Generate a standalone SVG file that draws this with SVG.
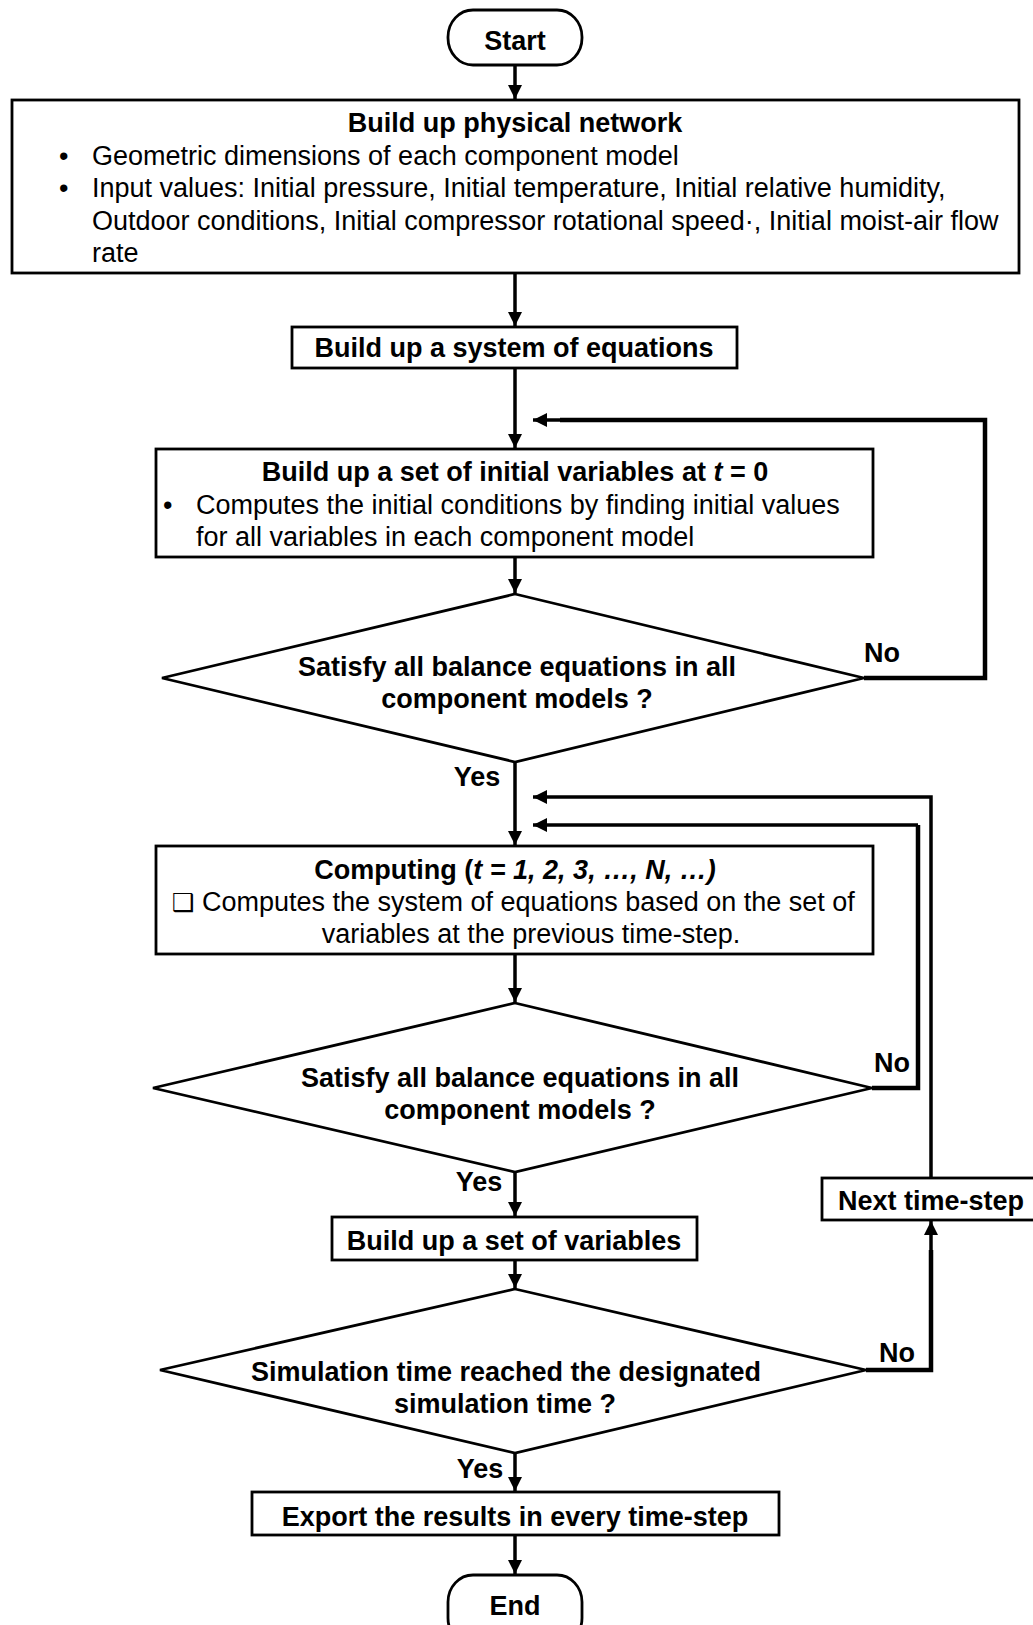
<svg xmlns="http://www.w3.org/2000/svg" width="1033" height="1625" viewBox="0 0 1033 1625">
<style>
text{font-family:"Liberation Sans",Arial,sans-serif;font-size:27px;fill:#000}
.b{font-weight:bold}
.c{text-anchor:middle}
.box{fill:#fff;stroke:#000;stroke-width:2.8}
.ln{fill:none;stroke:#000;stroke-width:3.5}
.no{fill:none;stroke:#000;stroke-width:4.5}
</style>
<defs>
<marker id="ah" markerUnits="userSpaceOnUse" markerWidth="15" markerHeight="15" refX="14" refY="7" orient="auto">
<path d="M0,0 L14,7 L0,14 z" fill="#000"/>
</marker>
</defs>
<rect width="1033" height="1625" fill="#fff"/>
<g id="connectors">
<line class="ln" x1="515" y1="65" x2="515" y2="99" marker-end="url(#ah)"/>
<line class="ln" x1="515" y1="273" x2="515" y2="326" marker-end="url(#ah)"/>
<line class="ln" x1="515" y1="368" x2="515" y2="448" marker-end="url(#ah)"/>
<line class="ln" x1="515" y1="557" x2="515" y2="593" marker-end="url(#ah)"/>
<polyline class="no" points="864,678 985,678 985,420 560,420"/>
<line class="ln" x1="560" y1="420" x2="533" y2="420" marker-end="url(#ah)"/>
<line class="ln" x1="515" y1="762" x2="515" y2="845" marker-end="url(#ah)"/>
<line class="ln" x1="515" y1="954" x2="515" y2="1002" marker-end="url(#ah)"/>
<polyline class="no" points="872,1088 918,1088 918,825"/>
<polyline class="ln" points="918,825 533,825" marker-end="url(#ah)"/>
<line class="ln" x1="515" y1="1172" x2="515" y2="1216" marker-end="url(#ah)"/>
<line class="ln" x1="515" y1="1260" x2="515" y2="1288" marker-end="url(#ah)"/>
<polyline class="no" points="866,1370 931,1370 931,1250"/>
<line class="ln" x1="931" y1="1250" x2="931" y2="1221" marker-end="url(#ah)"/>
<polyline class="ln" points="931,1178 931,797 533,797" marker-end="url(#ah)"/>
<line class="ln" x1="515" y1="1453" x2="515" y2="1491" marker-end="url(#ah)"/>
<line class="ln" x1="515" y1="1535" x2="515" y2="1574" marker-end="url(#ah)"/>
<text class="b c" x="477" y="786">Yes</text>
<text class="b c" x="882" y="662">No</text>
<text class="b c" x="479" y="1191">Yes</text>
<text class="b c" x="892" y="1072">No</text>
<text class="b c" x="480" y="1478">Yes</text>
<text class="b c" x="897" y="1362">No</text>
</g>
<g id="start">
<rect class="box" x="448" y="10" width="134" height="55" rx="25" ry="27"/>
<text class="b c" x="515" y="50">Start</text>
</g>
<g id="physical-network">
<rect class="box" x="12" y="100" width="1007" height="173"/>
<text class="b c" x="515" y="132">Build up physical network</text>
<text x="59" y="165">•</text>
<text x="92" y="165">Geometric dimensions of each component model</text>
<text x="59" y="197">•</text>
<text x="92" y="197">Input values: Initial pressure, Initial temperature, Initial relative humidity,</text>
<text x="92" y="230">Outdoor conditions, Initial compressor rotational speed·, Initial moist-air flow</text>
<text x="92" y="262">rate</text>
</g>
<g id="system-of-equations">
<rect class="box" x="292" y="327" width="445" height="41"/>
<text class="b c" x="514" y="357">Build up a system of equations</text>
</g>
<g id="initial-variables">
<rect class="box" x="156" y="449" width="717" height="108"/>
<text class="b c" x="515" y="481">Build up a set of initial variables at <tspan font-style="italic">t</tspan> = 0</text>
<text x="163" y="514">•</text>
<text x="196" y="514">Computes the initial conditions by finding initial values</text>
<text x="196" y="546">for all variables in each component model</text>
</g>
<g id="check-initial">
<polygon class="box" points="515,594 864,678 515,762 162,678"/>
<text class="b c" x="517" y="676">Satisfy all balance equations in all</text>
<text class="b c" x="517" y="708">component models ?</text>
</g>
<g id="computing">
<rect class="box" x="156" y="846" width="717" height="108"/>
<text class="b c" x="515" y="879">Computing (<tspan font-style="italic">t = 1, 2, 3, …, N, …)</tspan></text>
<text x="172" y="911"><tspan font-family="DejaVu Sans,sans-serif" font-size="25px">❑</tspan> Computes the system of equations based on the set of</text>
<text class="c" x="531" y="943">variables at the previous time-step.</text>
</g>
<g id="check-computing">
<polygon class="box" points="515,1003 872,1088 515,1172 153,1088"/>
<text class="b c" x="520" y="1087">Satisfy all balance equations in all</text>
<text class="b c" x="520" y="1119">component models ?</text>
</g>
<g id="set-of-variables">
<rect class="box" x="332" y="1217" width="365" height="43"/>
<text class="b c" x="514" y="1250">Build up a set of variables</text>
</g>
<g id="next-time-step">
<rect class="box" x="822" y="1178" width="220" height="42"/>
<text class="b" x="838" y="1210">Next time-step</text>
</g>
<g id="check-time">
<polygon class="box" points="515,1289 866,1370 515,1453 160,1370"/>
<text class="b c" x="506" y="1381">Simulation time reached the designated</text>
<text class="b c" x="505" y="1413">simulation time ?</text>
</g>
<g id="export">
<rect class="box" x="252" y="1492" width="527" height="43"/>
<text class="b c" x="515" y="1526">Export the results in every time-step</text>
</g>
<g id="end">
<rect class="box" x="448" y="1575" width="134" height="70" rx="25" ry="27"/>
<text class="b c" x="515" y="1615">End</text>
</g>
</svg>
